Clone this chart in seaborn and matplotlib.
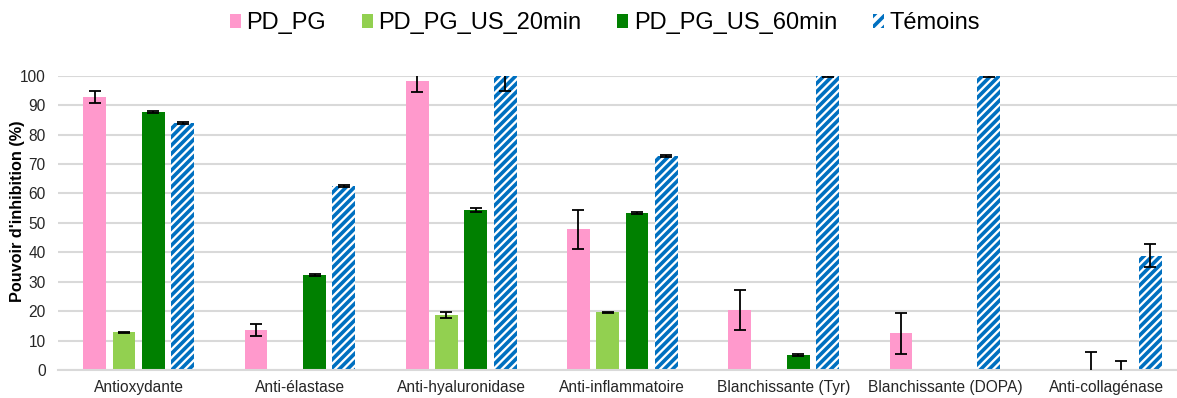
import pandas as pd
import numpy as np
import matplotlib.pyplot as plt
import seaborn as sns

# valeurs (0 = pas de barre)
categories = ['Antioxydante', 'Anti-élastase', 'Anti-hyaluronidase', 'Anti-inflammatoire',
              'Blanchissante (Tyr)', 'Blanchissante (DOPA)', 'Anti-collagénase']
series = ['PD_PG', 'PD_PG_US_20min', 'PD_PG_US_60min', 'Témoins']

pd_pg = [92.7, 13.5, 98.3, 47.8, 20.3, 12.5, 0]
pd_pg_err = [2.0, 2.0, 4.0, 6.7, 6.8, 7.0, 0]
us20 = [12.8, 0, 18.8, 19.6, 0, 0, 0]
us20_err = [0.3, 0, 1.0, 0.2, 0, 0, 6.0]
us60 = [87.7, 32.4, 54.4, 53.3, 5.2, 0, 0]
us60_err = [0.3, 0.3, 0.8, 0.3, 0.3, 0, 3.0]
temoins = [84.0, 62.4, 100, 72.8, 100, 100, 38.8]
temoins_err = [0.3, 0.3, 5.2, 0.3, 0.3, 0.3, 3.9]

colors = ['#FF99CC', '#92D050', '#008000', '#0070C0']

df = pd.DataFrame({
    'Categorie': categories * 4,
    'Serie': np.repeat(series, len(categories)),
    'Valeur': pd_pg + us20 + us60 + temoins,
    'Erreur': pd_pg_err + us20_err + us60_err + temoins_err,
})

plt.rcParams['font.family'] = ['Liberation Sans', 'DejaVu Sans']
plt.rcParams['hatch.linewidth'] = 2.6

fig = plt.figure(figsize=(11.77, 3.98), dpi=100)
ax = fig.add_axes([0.0493, 0.07, 0.959, 0.74])

sns.barplot(data=df, x='Categorie', y='Valeur', hue='Serie', order=categories,
            hue_order=series, palette=colors, errorbar=None, width=0.727,
            linewidth=0, saturation=1, ax=ax, zorder=2)

# barres plus fines que le créneau + hachures pour les témoins
bar_conts = list(ax.containers)
for i, cont in enumerate(bar_conts):
    s = series[i]
    sub = df[df['Serie'] == s].set_index('Categorie').loc[categories]
    for p, v, e in zip(cont.patches, sub['Valeur'], sub['Erreur']):
        w = p.get_width()
        p.set_x(p.get_x() + w * 0.11)
        p.set_width(w * 0.78)
        if s == 'Témoins':
            p.set_facecolor('white')
            p.set_edgecolor(colors[3])
            p.set_hatch('////')
            p.set_linewidth(0)
        if e > 0:
            ax.errorbar(p.get_x() + p.get_width() / 2, v, yerr=e, color='black',
                        capsize=4, elinewidth=1.3, capthick=1.3, zorder=3, clip_on=True)

ax.set_xlim(-0.5, len(categories) - 0.5)
ax.set_ylim(0, 100)
ax.set_yticks(range(0, 101, 10))
ax.yaxis.grid(True, color='#D9D9D9', linewidth=1.5, zorder=0)
ax.set_axisbelow(True)
for sp in ['top', 'right', 'left']:
    ax.spines[sp].set_visible(False)
ax.spines['bottom'].set_color('#D9D9D9')
ax.spines['bottom'].set_linewidth(1.5)
ax.tick_params(length=0, labelsize=11.2, colors='#262626')
ax.tick_params(axis='x', pad=7)
ax.tick_params(axis='y', pad=9)
ax.set_xlabel('')
ax.set_ylabel("Pouvoir d'inhibition (%)", fontsize=11.7, fontweight='bold')
ax.yaxis.set_label_coords(-0.029, 0.54)

handles, labels = ax.get_legend_handles_labels()
leg = ax.legend(handles, labels, loc='center', bbox_to_anchor=(0.4845, 1.177), ncol=4,
                frameon=False, fontsize=17, handlelength=0.47, handleheight=0.55,
                handletextpad=0.25, columnspacing=1.5)
h = leg.legend_handles[3]
h.set_facecolor('white')
h.set_edgecolor(colors[3])
h.set_hatch('///')
h.set_linewidth(0)

plt.savefig('out.png', dpi=100)
